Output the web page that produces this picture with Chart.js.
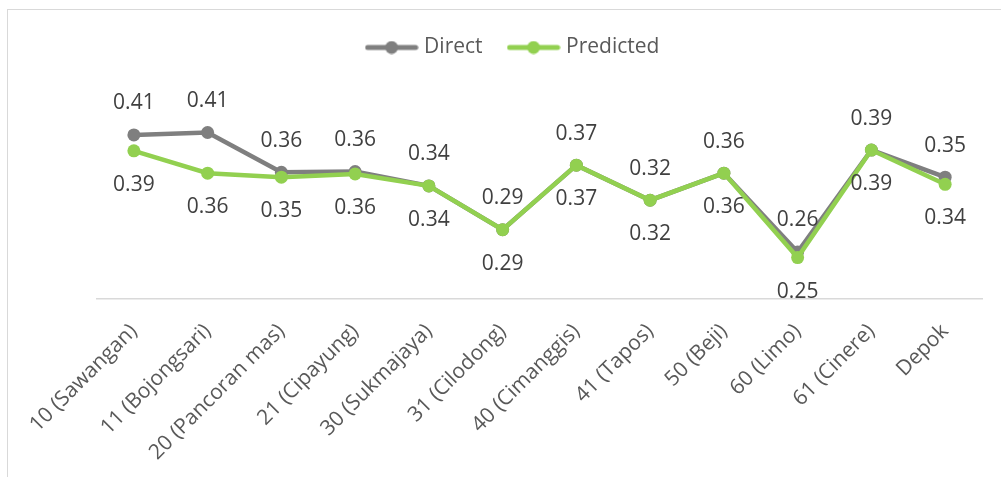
<!DOCTYPE html>
<html>
<head>
<meta charset="utf-8">
<title>Direct vs Predicted</title>
<script src="https://cdn.jsdelivr.net/npm/chart.js@4.4.1/dist/chart.umd.min.js"></script>
<style>
  html, body { margin: 0; padding: 0; background: #fff; overflow: hidden; }
  #wrap { position: relative; width: 1001px; height: 477px; }
  .frame { position: absolute; left: 7px; top: 9px; width: 1100px; height: 600px; border: 1.5px solid #d9d9d9; }
  canvas { position: absolute; left: 0; top: 0; }
</style>
</head>
<body>
<div id="wrap">
  <div class="frame"></div>
  <canvas id="chart" width="1001" height="477"></canvas>
</div>
<script>
var kecamatan = ['10 (Sawangan)', '11 (Bojongsari)', '20 (Pancoran mas)', '21 (Cipayung)', '30 (Sukmajaya)',
  '31 (Cilodong)', '40 (Cimanggis)', '41 (Tapos)', '50 (Beji)', '60 (Limo)', '61 (Cinere)', 'Depok']
var direct = [0.406, 0.409, 0.359, 0.360, 0.342, 0.287, 0.368, 0.324, 0.358, 0.259, 0.387, 0.353]
var predicted = [0.386, 0.358, 0.353, 0.357, 0.342, 0.287, 0.368, 0.324, 0.358, 0.252, 0.387, 0.344]

var grey = '#7f7f7f'
var green = '#92d050'

// little line-with-dot swatch for the legend
function swatch(color) {
  var c = document.createElement('canvas')
  c.width = 54
  c.height = 14
  var g = c.getContext('2d')
  g.strokeStyle = color
  g.lineWidth = 5
  g.lineCap = 'round'
  g.beginPath()
  g.moveTo(3, 7)
  g.lineTo(51, 7)
  g.stroke()
  g.fillStyle = color
  g.beginPath()
  g.arc(27, 7, 6.5, 0, Math.PI * 2)
  g.fill()
  return c
}

// value above the Direct points, below the Predicted ones
var valueLabels = {
  id: 'valueLabels',
  afterDatasetsDraw: function (chart) {
    var ctx = chart.ctx
    ctx.save()
    ctx.font = '21px "Open Sans"'
    ctx.fillStyle = '#404040'
    ctx.textAlign = 'center'
    ctx.textBaseline = 'middle'
    chart.data.datasets.forEach(function (ds, i) {
      var shift = i === 0 ? -31.5 : 34
      chart.getDatasetMeta(i).data.forEach(function (pt, j) {
        ctx.fillText(ds.data[j].toFixed(2), pt.x, pt.y + shift)
      })
    })
    ctx.restore()
  }
}

var chart = new Chart(document.getElementById('chart'), {
  type: 'line',
  data: {
    labels: kecamatan,
    datasets: [{
      label: 'Direct',
      data: direct,
      borderColor: grey,
      backgroundColor: grey,
      pointBackgroundColor: grey,
      borderWidth: 4.5,
      pointRadius: 6.5,
      pointBorderWidth: 0,
      order: 1
    }, {
      label: 'Predicted',
      data: predicted,
      borderColor: green,
      backgroundColor: green,
      pointBackgroundColor: green,
      borderWidth: 4.5,
      pointRadius: 6.5,
      pointBorderWidth: 0,
      order: 0
    }]
  },
  options: {
    responsive: false,
    animation: false,
    events: [],
    layout: { padding: { left: 28, right: 0, top: 8, bottom: 0 } },
    plugins: {
      tooltip: { enabled: false },
      legend: {
        position: 'top',
        labels: {
          usePointStyle: true,
          pointStyleWidth: 44,
          padding: 29,
          color: '#595959',
          font: { family: 'Open Sans', size: 21 },
          generateLabels: function (chart) {
            return chart.data.datasets.map(function (ds, i) {
              return {
                text: ds.label,
                datasetIndex: i,
                pointStyle: swatch(ds.borderColor),
                fontColor: '#595959',
                lineWidth: 0,
                hidden: false
              }
            })
          }
        }
      }
    },
    scales: {
      x: {
        offset: true,
        grid: { display: false },
        border: { display: true, color: '#d9d9d9', width: 1.5 },
        ticks: {
          color: '#595959',
          font: { family: 'Open Sans', size: 21 },
          minRotation: 45,
          maxRotation: 45,
          autoSkip: false,
          padding: 12
        },
        afterFit: function (s) { s.height = 178 }
      },
      y: {
        min: 0.2,
        max: 0.49,
        grid: { display: false },
        border: { display: false },
        ticks: { display: false },
        afterFit: function (s) { s.width = 69 }
      },
      y1: {
        position: 'right',
        grid: { display: false },
        border: { display: false },
        ticks: { display: false },
        afterFit: function (s) { s.width = 19 }
      }
    }
  },
  plugins: [valueLabels]
})
</script>
</body>
</html>
